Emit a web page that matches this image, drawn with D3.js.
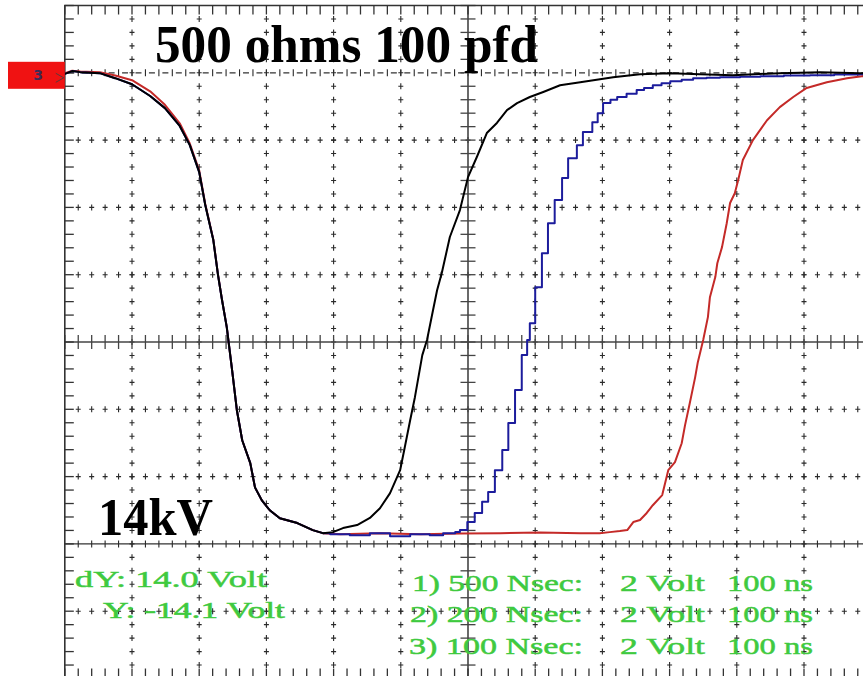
<!DOCTYPE html>
<html>
<head>
<meta charset="utf-8">
<script src="https://cdn.jsdelivr.net/npm/d3@7"></script>
<style>
  html, body { margin: 0; padding: 0; background: #ffffff; }
  svg { display: block; }
</style>
</head>
<body>
<svg id="chart" width="863" height="676"></svg>
<script>
// ---------- DATA (time in ns, voltage in V) ----------
const fallTime = [-601,-589,-577,-548,-525,-500,-473,-451,-429,-414,-400,-391,-379,-372,-366,-359,-351,-344,-336,-324,-317,-307,-295,-280,-254,-231,-216];
const fallVolt = [-0.04,0.05,0.02,-0.01,-0.16,-0.34,-0.69,-1.05,-1.58,-2.15,-2.95,-3.93,-4.97,-6.01,-6.76,-7.56,-8.84,-10.02,-10.92,-11.60,-12.32,-12.70,-13.00,-13.24,-13.38,-13.59,-13.68];
const redFallVolt = [-0.02,0.06,0.04,0.02,-0.08,-0.22,-0.55,-0.95,-1.50,-2.10,-2.90,-3.90,-4.95,-6.00,-6.75,-7.55,-8.84,-10.02,-10.92,-11.60,-12.32,-12.70,-13.00,-13.24,-13.38,-13.59,-13.68];

const blackRiseTime = [-201,-186,-165,-146,-131,-116,-101,-94,-86,-79,-68,-61,-52,-46,-39,-27,-12,0,13,28,43,58,73,92,112,137,167,216,256,301,345,394,464,524,583,601];
const blackRiseVolt = [-13.65,-13.53,-13.44,-13.23,-12.94,-12.49,-11.81,-11.12,-10.32,-9.64,-8.39,-7.94,-7.05,-6.46,-5.95,-4.88,-4.08,-3.10,-2.51,-1.79,-1.49,-1.11,-0.90,-0.72,-0.57,-0.37,-0.28,-0.13,-0.04,-0.01,-0.04,-0.07,-0.01,0.02,-0.01,-0.02];

// steep, stair-stepped part of the blue rise
const blueRiseTime = [-205,-176,-146,-116,-86,-57,-37,-19,-12,-1,10,21,30,40,51,60,70,80,88,92,100,110,119,129,140,149,162,171,185,193,201];
const blueRiseVolt = [-13.71,-13.74,-13.68,-13.77,-13.71,-13.74,-13.68,-13.65,-13.59,-13.35,-13.08,-12.75,-12.46,-11.81,-11.21,-10.41,-9.43,-8.39,-7.94,-7.44,-6.37,-5.36,-4.47,-3.78,-3.13,-2.54,-2.15,-1.76,-1.47,-1.20,-0.90];
// slow settling tail of the blue rise
const blueTailTime = [201,212,222,236,251,262,275,288,301,318,335,355,375,405,435,470,509,545,583,601];
const blueTailVolt = [-0.90,-0.80,-0.72,-0.62,-0.51,-0.45,-0.37,-0.31,-0.25,-0.21,-0.16,-0.15,-0.13,-0.12,-0.10,-0.08,-0.07,-0.05,-0.04,-0.04];

const redRiseTime = [-190,-131,-71,-12,48,107,167,196,211,226,237,246,256,266,275,289,298,308,318,323,330,338,342,350,357,360,368,371,378,385,390,397,402,409,424,445,464,484,504,534,564,586,601];
const redRiseVolt = [-13.71,-13.68,-13.71,-13.69,-13.68,-13.66,-13.68,-13.68,-13.65,-13.62,-13.59,-13.35,-13.29,-13.08,-12.85,-12.55,-11.81,-11.57,-11.01,-10.47,-9.82,-9.05,-8.60,-7.94,-7.26,-6.67,-6.07,-5.66,-5.18,-4.47,-3.87,-3.58,-3.19,-2.59,-2.00,-1.41,-1.02,-0.72,-0.45,-0.28,-0.16,-0.10,-0.09];

const cursorVolts = [0, -14];
const titleText = "500 ohms 100 pfd";
const voltageLabel = "14kV";
const cursorReadouts = ["dY: 14.0 Volt", "Y: -14.1 Volt"];
const channelNames = ["1) 500 Nsec:", "2) 200 Nsec:", "3) 100 Nsec:"];
const channelScales = ["2 Volt", "2 Volt", "2 Volt"];
const channelTimebase = ["100 ns", "100 ns", "100 ns"];

// ---------- SCALES ----------
const svg = d3.select("#chart");
const x = d3.scaleLinear().domain([-600, 600]).range([64.8, 871.2]);
const y = d3.scaleLinear().domain([2, -18]).range([5.5, 678.5]);

const gridColor = "#2a2a2a";
const g = svg.append("g");

const minorT = d3.range(-600, 600.01, 20);
const minorV = d3.range(2, -18.01, -0.4);
const majorT = d3.range(-500, 500.01, 100).filter(t => Math.abs(t) > 1);
const majorV = d3.range(0, -16.01, -2).filter(v => Math.abs(v + 8) > 0.01 && Math.abs(v) > 0.01 && Math.abs(v + 14) > 0.01);

// crosses on major vertical lines
majorT.forEach(t => {
  minorV.slice(1, -1).forEach(v => {
    g.append("path")
      .attr("d", `M${x(t)-2.5},${y(v)}h5M${x(t)},${y(v)-3}v6`)
      .attr("stroke", gridColor).attr("stroke-width", 1.1);
  });
});
// crosses on major horizontal lines
majorV.forEach(v => {
  minorT.slice(1).forEach(t => {
    g.append("path")
      .attr("d", `M${x(t)-2.5},${y(v)}h5M${x(t)},${y(v)-3}v6`)
      .attr("stroke", gridColor).attr("stroke-width", 1.1);
  });
});

// cursor lines
cursorVolts.forEach((v, i) => {
  g.append("line")
    .attr("x1", x(-600)).attr("x2", x(600)).attr("y1", y(v)).attr("y2", y(v))
    .attr("stroke", "#333").attr("stroke-width", 1.3)
    .attr("stroke-dasharray", i === 0 ? "6,7.44" : null)
    .attr("stroke-dashoffset", i === 0 ? -3.5 : 0);
  minorT.slice(1).forEach(t => {
    g.append("path")
      .attr("d", `M${x(t)},${y(v)-3.5}v7`)
      .attr("stroke", gridColor).attr("stroke-width", 1.1);
  });
});

// center axes
g.append("line").attr("x1", x(0)).attr("x2", x(0)).attr("y1", y(2)).attr("y2", y(-18))
  .attr("stroke", "#444").attr("stroke-width", 1.6);
g.append("line").attr("x1", x(-600)).attr("x2", x(600)).attr("y1", y(-8)).attr("y2", y(-8))
  .attr("stroke", "#444").attr("stroke-width", 1.6);
minorV.forEach(v => {
  g.append("line").attr("x1", x(0) - 7.5).attr("x2", x(0) + 7.5).attr("y1", y(v)).attr("y2", y(v))
    .attr("stroke", "#444").attr("stroke-width", 1.3);
});
minorT.forEach(t => {
  g.append("line").attr("x1", x(t)).attr("x2", x(t)).attr("y1", y(-8) - 7).attr("y2", y(-8) + 7)
    .attr("stroke", "#444").attr("stroke-width", 1.3);
});

// frame
g.append("path")
  .attr("d", `M${x(600)},${y(2)}H${x(-600)}V${y(-18)}H${x(600)}`)
  .attr("fill", "none").attr("stroke", "#333").attr("stroke-width", 1.6);
minorV.forEach(v => {
  g.append("line").attr("x1", x(-600)).attr("x2", x(-600) + 9).attr("y1", y(v)).attr("y2", y(v))
    .attr("stroke", "#333").attr("stroke-width", 1.3);
});
minorT.forEach(t => {
  g.append("line").attr("x1", x(t)).attr("x2", x(t)).attr("y1", y(2)).attr("y2", y(2) + 9)
    .attr("stroke", "#333").attr("stroke-width", 1.3);
  g.append("line").attr("x1", x(t)).attr("x2", x(t)).attr("y1", y(-18)).attr("y2", y(-18) - 10)
    .attr("stroke", "#333").attr("stroke-width", 1.3);
});

// ---------- TEXT ----------
svg.append("text").text(titleText)
  .attr("x", 155).attr("y", 62)
  .attr("font-family", "'Liberation Serif', 'DejaVu Serif', serif")
  .attr("font-weight", "bold").attr("font-size", 53)
  .attr("textLength", 383).attr("lengthAdjust", "spacingAndGlyphs")
  .attr("fill", "#000");
svg.append("text").text(voltageLabel)
  .attr("x", 98).attr("y", 535)
  .attr("font-family", "'Liberation Serif', 'DejaVu Serif', serif")
  .attr("font-weight", "bold").attr("font-size", 53)
  .attr("textLength", 115).attr("lengthAdjust", "spacingAndGlyphs")
  .attr("fill", "#000");

const green = "#3fca3f";
const greenFont = "'Liberation Serif', 'DejaVu Serif', serif";
const greenSize = 23.5;
function greenText(s, gx, gy, len) {
  svg.append("text").text(s).attr("x", gx).attr("y", gy)
    .attr("font-family", greenFont).attr("font-size", greenSize).attr("fill", green)
    .attr("stroke", green).attr("stroke-width", 0.5)
    .attr("textLength", len).attr("lengthAdjust", "spacingAndGlyphs");
}
const leftX = [75, 103], leftY = [587, 618], leftLen = [192, 182];
cursorReadouts.forEach((s, i) => greenText(s, leftX[i], leftY[i], leftLen[i]));
const rowY = [591, 622, 654];
const nameX = [412, 410, 409];
channelNames.forEach((s, i) => {
  greenText(s, nameX[i], rowY[i], 583 - nameX[i]);
  greenText(channelScales[i], 620, rowY[i], 85);
  greenText(channelTimebase[i], 727, rowY[i], 86);
});

// ---------- TRACES ----------
const line = d3.line().x(d => x(d[0])).y(d => y(d[1]));
const stepLine = d3.line().x(d => x(d[0])).y(d => y(d[1])).curve(d3.curveStepAfter);
const zip = (a, b) => a.map((t, i) => [t, b[i]]);

const redData = zip(fallTime, redFallVolt).concat(zip(redRiseTime, redRiseVolt));
const blueFall = zip(fallTime, fallVolt);
const blueRise = [blueFall[blueFall.length - 1]].concat(zip(blueRiseTime, blueRiseVolt));
const blueTail = zip(blueTailTime, blueTailVolt);
const blackData = zip(fallTime, fallVolt).concat(zip(blackRiseTime, blackRiseVolt));

svg.append("defs").append("clipPath").attr("id", "clipScreen")
  .append("rect").attr("x", x(-600)).attr("y", y(2)).attr("width", x(600) - x(-600)).attr("height", y(-18) - y(2));
const traces = svg.append("g").attr("clip-path", "url(#clipScreen)");

const blue = "#1c1c9c";
traces.append("path").attr("d", line(redData))
  .attr("fill", "none").attr("stroke", "#c42a28").attr("stroke-width", 2).attr("stroke-linejoin", "round");
traces.append("path").attr("d", line(blueFall))
  .attr("fill", "none").attr("stroke", blue).attr("stroke-width", 2).attr("stroke-linejoin", "round");
traces.append("path").attr("d", stepLine(blueRise))
  .attr("fill", "none").attr("stroke", blue).attr("stroke-width", 2).attr("stroke-linejoin", "round");
traces.append("path").attr("d", stepLine(blueTail))
  .attr("fill", "none").attr("stroke", blue).attr("stroke-width", 2).attr("stroke-linejoin", "round");
traces.append("path").attr("d", line(blackData))
  .attr("fill", "none").attr("stroke", "#000").attr("stroke-width", 2).attr("stroke-linejoin", "round");

// ---------- CHANNEL MARKER ----------
svg.append("rect").attr("x", 8).attr("y", y(0) - 11).attr("width", x(-600) - 8).attr("height", 27)
  .attr("fill", "#f01212");
svg.append("text").text("3").attr("x", 38).attr("y", y(0) + 7)
  .attr("text-anchor", "middle").attr("font-family", "'DejaVu Sans', sans-serif")
  .attr("font-weight", "bold").attr("font-size", 14).attr("fill", "#3b2a55");
svg.append("path").attr("d", `M${x(-600) - 9},${y(0) + 0.5}L${x(-600) - 1},${y(0) + 5}L${x(-600) - 9},${y(0) + 9.5}`)
  .attr("fill", "none").attr("stroke", "#5a3a3a").attr("stroke-width", 1);
</script>
</body>
</html>
